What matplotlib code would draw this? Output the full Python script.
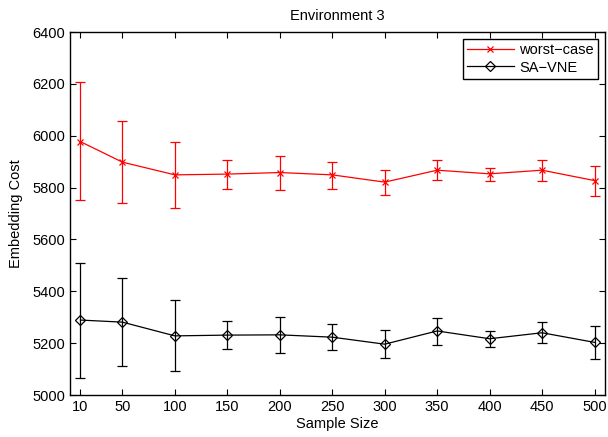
import numpy as np
import matplotlib
matplotlib.use("Agg")
import matplotlib.pyplot as plt

plt.rcParams['font.family'] = ['Liberation Sans', 'DejaVu Sans']

sample_size = [10, 50, 100, 150, 200, 250, 300, 350, 400, 450, 500]

# worst-case: mean and error bar ends
worst_mean = [5977, 5898, 5849, 5852, 5858, 5849, 5821, 5867, 5853, 5867, 5827]
worst_high = [6206, 6056, 5975, 5906, 5923, 5900, 5869, 5906, 5877, 5906, 5885]
worst_low = [5751, 5741, 5721, 5794, 5789, 5796, 5772, 5830, 5825, 5826, 5768]

# SA-VNE
sa_mean = [5289, 5281, 5228, 5231, 5232, 5223, 5196, 5247, 5217, 5240, 5203]
sa_high = [5511, 5453, 5365, 5285, 5299, 5272, 5250, 5298, 5248, 5280, 5267]
sa_low = [5065, 5110, 5092, 5177, 5163, 5175, 5143, 5194, 5187, 5200, 5140]


def err(mean, low, high):
    m = np.array(mean)
    return [m - np.array(low), np.array(high) - m]


fig = plt.figure(figsize=(6.08, 4.37), dpi=100)
ax = fig.add_axes([70 / 608, 1 - 395 / 437, 535 / 608, 363 / 437])

c1 = ax.errorbar(sample_size, worst_mean, yerr=err(worst_mean, worst_low, worst_high),
                 color='red', marker='x', markersize=4.5, markeredgewidth=0.9,
                 linewidth=0.9, elinewidth=0.9, capsize=3.4, capthick=0.9)
c2 = ax.errorbar(sample_size, sa_mean, yerr=err(sa_mean, sa_low, sa_high),
                 color='black', marker='D', markersize=5.6, markerfacecolor='none',
                 markeredgewidth=0.9, linewidth=0.9, elinewidth=0.9,
                 capsize=3.4, capthick=0.9)

ax.set_xlim(0, 510)
ax.set_ylim(5000, 6400)
ax.set_xticks(sample_size)
ax.set_yticks(np.arange(5000, 6401, 200))
ax.tick_params(direction='in', top=True, right=True, labelsize=10.5, length=4, width=0.8)
for s in ax.spines.values():
    s.set_linewidth(1.0)

ax.set_title('Environment 3', fontsize=10.5, pad=9)
ax.set_xlabel('Sample Size', fontsize=10.5, labelpad=2)
ax.set_ylabel('Embedding Cost', fontsize=10.5, labelpad=7)

leg = ax.legend([c1.lines[0], c2.lines[0]], ['worst\u2212case', 'SA\u2212VNE'],
                loc='upper right', fontsize=10.5, fancybox=False, framealpha=1,
                edgecolor='black', borderaxespad=0.45, handlelength=3.2,
                handletextpad=0.4, borderpad=0.3, labelspacing=0.25)
leg.get_frame().set_linewidth(1.0)

fig.savefig('out.png', dpi=100)
